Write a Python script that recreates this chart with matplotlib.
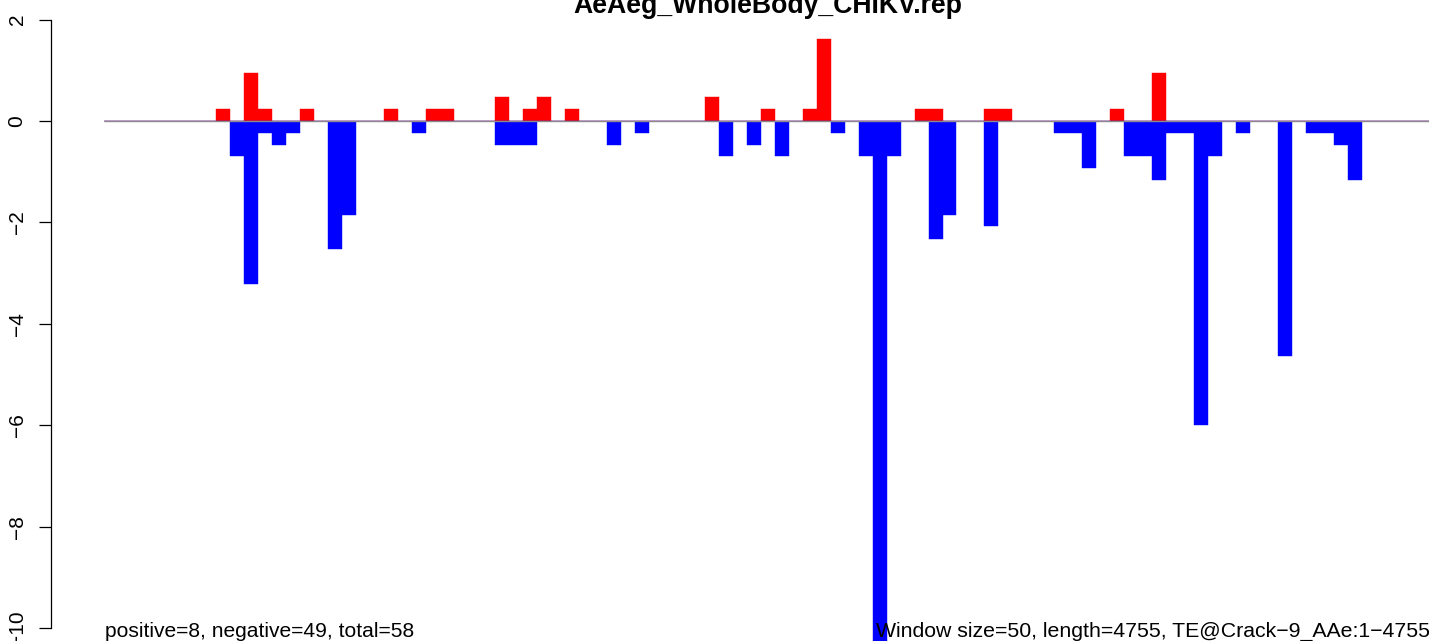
import numpy as np
import matplotlib
matplotlib.use("Agg")
import matplotlib.pyplot as plt

plt.rcParams['font.family'] = ['Liberation Sans', 'DejaVu Sans']

# window scores (window size 50 over length 4755 -> 96 windows)
n_windows = 96
pos_idx = [8, 10, 11, 14, 20, 23, 24, 28, 30, 31, 33, 43, 47, 50, 51, 58, 59, 63, 64, 72, 75]
pos_val = [0.24, 0.94, 0.24, 0.24, 0.24, 0.24, 0.24, 0.47, 0.24, 0.47, 0.24, 0.47, 0.24, 0.24, 1.62,
           0.24, 0.24, 0.24, 0.24, 0.24, 0.94]
neg_idx = [9, 10, 11, 12, 13, 16, 17, 22, 28, 29, 30, 36, 38, 44, 46, 48, 52, 54, 55, 56,
           59, 60, 63, 68, 69, 70, 73, 74, 75, 76, 77, 78, 79, 81, 84, 86, 87, 88, 89]
neg_val = [-0.70, -3.22, -0.24, -0.47, -0.24, -2.53, -1.85, -0.24, -0.47, -0.47, -0.47, -0.47, -0.24,
           -0.70, -0.47, -0.70, -0.24, -0.70, -10.3, -0.70, -2.32, -1.85, -2.08, -0.24, -0.24, -0.93,
           -0.70, -0.70, -1.16, -0.24, -0.24, -6.00, -0.70, -0.24, -4.63, -0.24, -0.24, -0.47, -1.16]
yticks = [2, 0, -2, -4, -6, -8, -10]

title = "AeAeg_WholeBody_CHIKV.rep"
left_note = "positive=8, negative=49, total=58"
right_note = "Window size=50, length=4755, TE@Crack\u22129_AAe:1\u22124755"

pos = np.zeros(n_windows)
pos[pos_idx] = pos_val
neg = np.zeros(n_windows)
neg[neg_idx] = neg_val

W, H = 1429, 641
fig = plt.figure(figsize=(W / 100, H / 100), dpi=100)
ax = fig.add_axes([51 / W, 0, 1 - 51 / W, 1])

x = np.arange(n_windows)
ax.bar(x, pos, width=1, align='edge', color='#ff0000', edgecolor='#ff0000', linewidth=0.3)
ax.bar(x, neg, width=1, align='edge', color='#0000ff', edgecolor='#0000ff', linewidth=0.3)
ax.hlines(0, 0, n_windows, color='#8a8a8a', linewidth=1.0, zorder=3)

# pixel -> data mapping taken from the reference layout
x0, bw = 104.3, 13.97
ax.set_xlim((51 - x0) / bw, (W - x0) / bw)
y0, unit = 121.0, 50.7
ax.set_ylim(-(H - y0) / unit, y0 / unit)

ax.set_yticks(yticks)
ax.tick_params(axis='y', direction='out', length=8.6, width=0.9, labelsize=15, pad=9)
for lab in ax.get_yticklabels():
    lab.set_rotation(90)
    lab.set_va('center')
ax.set_xticks([])
for s in ['top', 'right', 'bottom']:
    ax.spines[s].set_visible(False)
ax.spines['left'].set_bounds(-10, 2)
ax.spines['left'].set_linewidth(0.9)

fig.text(767.5 / W, 1 - 12.7 / H, title, ha='center', va='baseline', fontsize=19.2, fontweight='bold')
fig.text(105 / W, 1 - 636.7 / H, left_note, ha='left', va='baseline', fontsize=15.1)
fig.text(876 / W, 1 - 636.7 / H, right_note, ha='left', va='baseline', fontsize=15.3)

fig.savefig("out.png", dpi=100)
